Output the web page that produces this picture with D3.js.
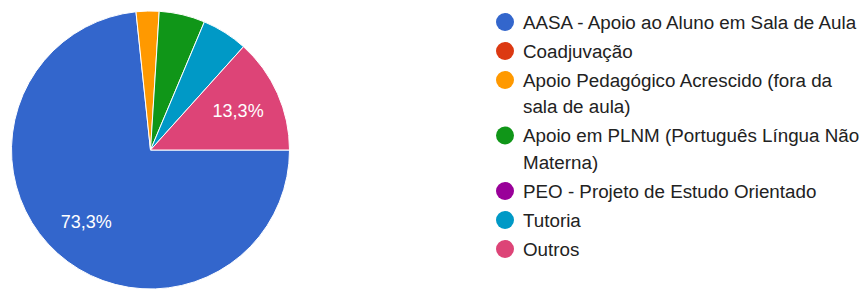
<!DOCTYPE html>
<html lang="pt">
<head>
  <meta charset="UTF-8">
  <title>pie</title>
  <script src="https://d3js.org/d3.v7.min.js"></script>
  <style>
    body { margin: 0; background: #fff; }
    svg { display: block; font-family: Arial, "Liberation Sans", sans-serif; }
  </style>
</head>
<body>
  <div class="chart"></div>
  <script>
      const categories = [
        'AASA - Apoio ao Aluno em Sala de Aula',
        'Coadjuvação',
        'Apoio Pedagógico Acrescido (fora da sala de aula)',
        'Apoio em PLNM (Português Língua Não Materna)',
        'PEO - Projeto de Estudo Orientado',
        'Tutoria',
        'Outros'
      ];
      const counts = [55, 0, 2, 4, 0, 4, 10];
      const colors = ['#3366cc', '#dc3912', '#ff9900', '#109618', '#990099', '#0099c6', '#dd4477'];

      const width = 861, height = 289;
      const cx = 150.5, cy = 150, radius = 139;

      const svg = d3.select('.chart').append('svg').attr('width', width).attr('height', height);

      const total = d3.sum(counts);
      const data = categories.map((c, i) => ({ name: c, value: counts[i], color: colors[i] }));

      // google forms pie starts at 3 o'clock here, clockwise
      const pie = d3.pie().value(d => d.value).sort(null)
        .startAngle(Math.PI / 2).endAngle(Math.PI / 2 + 2 * Math.PI);
      const arc = d3.arc().innerRadius(0).outerRadius(radius);
      const labelArc = d3.arc().innerRadius(radius * 0.69).outerRadius(radius * 0.69);

      const g = svg.append('g').attr('transform', `translate(${cx},${cy})`);
      const arcs = pie(data).filter(d => d.data.value > 0);

      g.selectAll('path')
        .data(arcs)
        .enter()
        .append('path')
        .attr('d', arc)
        .style('fill', d => d.data.color)
        .style('stroke', '#fff')
        .style('stroke-width', 1);

      const fmt = v => (v * 100).toFixed(1).replace('.', ',') + '%';

      g.selectAll('text.pct')
        .data(arcs.filter(d => d.data.value / total > 0.1))
        .enter()
        .append('text')
        .attr('class', 'pct')
        .attr('transform', d => `translate(${labelArc.centroid(d)})`)
        .attr('text-anchor', 'middle')
        .attr('dy', '0.35em')
        .style('fill', '#fff')
        .style('font-size', '18px')
        .text(d => fmt(d.data.value / total));

      // legend with word wrap
      const legend = svg.append('g');
      const lx = 505, textX = 523, maxW = 342;
      let y = 22;
      data.forEach(d => {
        legend.append('circle').attr('cx', lx).attr('cy', y).attr('r', 9).style('fill', d.color);
        const t = legend.append('text').attr('x', textX).attr('y', y).attr('dy', '0.35em')
          .style('font-size', '18.8px').style('fill', '#222');
        const words = d.name.split(' ');
        let line = [];
        let tspan = t.append('tspan').attr('x', textX);
        let lines = 1;
        words.forEach(w => {
          line.push(w);
          tspan.text(line.join(' '));
          if (tspan.node().getComputedTextLength() > maxW && line.length > 1) {
            line.pop();
            tspan.text(line.join(' '));
            line = [w];
            tspan = t.append('tspan').attr('x', textX).attr('dy', 26.5).text(w);
            lines++;
          }
        });
        y += 29 + (lines - 1) * 26.5;
      });
  </script>
</body>
</html>
